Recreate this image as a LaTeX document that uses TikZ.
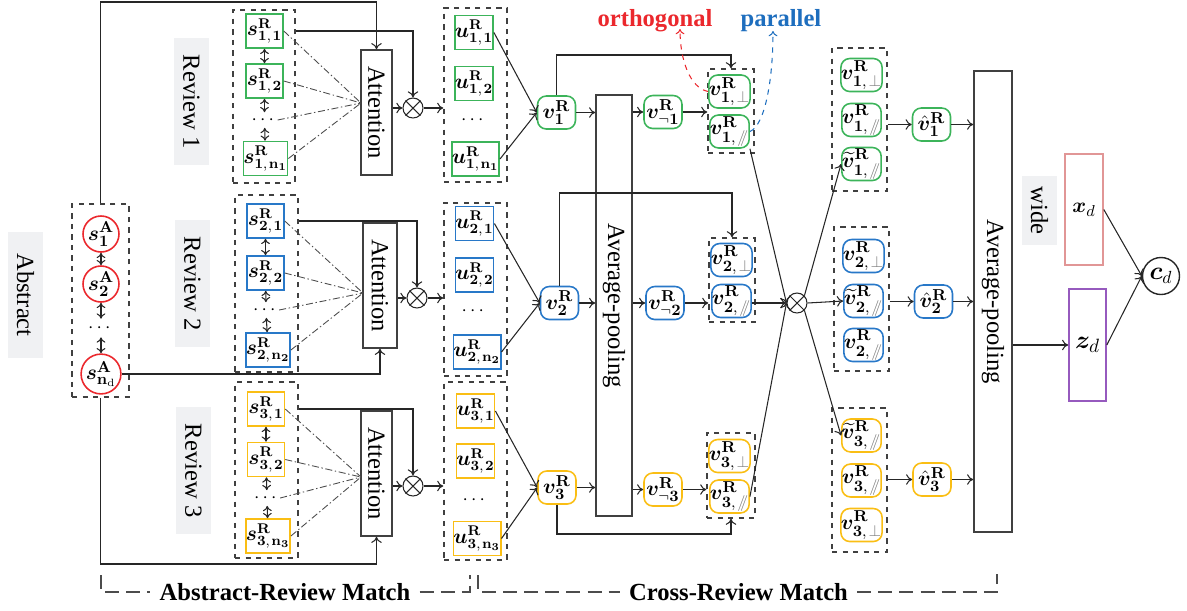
\documentclass[tikz,border=0pt]{standalone}
\usepackage[no-math]{fontspec}
\setmainfont{Liberation Serif}
\usepackage{amsmath,bm,graphicx}
\usetikzlibrary{arrows.meta,fit}
\definecolor{cg}{RGB}{60,180,90}
\definecolor{cb}{RGB}{40,120,200}
\definecolor{cy}{RGB}{250,190,20}
\definecolor{cr}{RGB}{235,40,45}
\definecolor{lg}{RGB}{240,241,243}
\definecolor{tblue}{RGB}{30,110,190}
\definecolor{xpink}{RGB}{225,150,150}
\definecolor{zpur}{RGB}{150,90,190}
\newcommand\mypar{{\color{gray}/\!\!/}}
\newcommand\myperp{{\color{gray}\perp}}
\newcommand\SR[3]{$\bm{#1}^{\mathbf R}_{\mathbf{#2},\mkern2mu#3}$}
\tikzset{
 ln/.style={line width=0.6pt, draw=black!85},
 arr/.style={ln, -{To[length=3.5pt,width=6pt]}},
 darr/.style={ln, {To[length=3pt,width=5pt]}-{To[length=3pt,width=5pt]}},
 dd/.style={line width=0.5pt, draw=black!70, dash pattern=on 4pt off 1.5pt on 0.8pt off 1.5pt},
 sb/.style={draw, line width=0.9pt, minimum width=0.74cm, minimum height=0.68cm, inner sep=0pt, font=\fontsize{12}{14}\selectfont},
 vb/.style={sb, rounded corners=5pt, minimum height=0.66cm, minimum width=0.76cm, font=\fontsize{12.5}{15}\selectfont},
 ca/.style={draw=cr, circle, line width=0.9pt, minimum size=0.72cm, inner sep=0pt, font=\fontsize{13}{15}\selectfont},
 dots/.style={inner sep=0pt, minimum height=0.3cm, font=\fontsize{11}{13}\selectfont},
 grp/.style={draw=black!75, dashed, line width=0.8pt, inner sep=0pt},
 lab/.style={fill=lg, minimum width=0.7cm, minimum height=2.54cm, inner sep=0pt, font=\fontsize{14}{16}\selectfont},
 tall/.style={draw=black!75, line width=0.9pt, inner sep=0pt, font=\fontsize{14}{16}\selectfont},
 ox/.style={draw=black!85, circle, line width=0.6pt, minimum size=0.4cm, inner sep=0pt},
 brk/.style={draw=black!70, line width=0.7pt, dash pattern=on 8pt off 4pt},
 btxt/.style={font=\fontsize{14}{16}\selectfont\bfseries, inner sep=0.18cm}
}
\begin{document}
\begin{tikzpicture}[x=0.02cm,y=-0.02cm]
\path[use as bounding box] (0,0) rectangle (1187,610);
% ---------- labels
\node[lab] (labA) at (25.5,295) {\rotatebox{-90}{Abstract}};
\node[lab] (labR1) at (191.5,101.5) {\rotatebox{-90}{Review 1}};
\node[lab] (labR2) at (192.5,283.5) {\rotatebox{-90}{Review 2}};
\node[lab] (labR3) at (193.5,470.5) {\rotatebox{-90}{Review 3}};
% ---------- abstract
\node[grp, fit={(72,204) (129,397)}] (ga) {};
\node[ca] (a1) at (101,234) {$\bm{s}^{\mathbf A}_{\mathbf 1}$};
\node[ca] (a2) at (101,284) {$\bm{s}^{\mathbf A}_{\mathbf 2}$};
\node[dots, minimum height=0.36cm] (ad) at (101,328) {$\cdots$};
\node[ca] (an) at (101,374) {$\bm{s}^{\mathbf A}_{\mathbf{n}_{\mathrm d}}$};
\draw[darr] (a1) -- (a2);
\draw[darr] (a2) -- (ad);
\draw[darr] (ad) -- (an);
% ---------- review sentence groups
\node[grp, fit={(233,10) (295,183)}] (g1) {};
\node[grp, fit={(235,195) (298,372)}] (g2) {};
\node[grp, fit={(235,382) (298,558)}] (g3) {};
\node[sb, draw=cg] (s11) at (264.5,31) {\SR{s}{1}{\mathbf 1}};
\node[sb, draw=cg] (s12) at (264.5,81) {\SR{s}{1}{\mathbf 2}};
\node[dots] (d1) at (264.5,120) {$\cdots$};
\node[sb, draw=cg] (s1n) at (265.5,158.5) {\SR{s}{1}{\mathbf{n}_{\mathbf 1}}};
\node[sb, draw=cb] (s21) at (265.5,221) {\SR{s}{2}{\mathbf 1}};
\node[sb, draw=cb] (s22) at (265.5,273) {\SR{s}{2}{\mathbf 2}};
\node[dots] (d2) at (266,310) {$\cdots$};
\node[sb, draw=cb] (s2n) at (268,350) {\SR{s}{2}{\mathbf{n}_{\mathbf 2}}};
\node[sb, draw=cy] (s31) at (266,409) {\SR{s}{3}{\mathbf 1}};
\node[sb, draw=cy] (s32) at (266,459.5) {\SR{s}{3}{\mathbf 2}};
\node[dots] (d3) at (267,498) {$\cdots$};
\node[sb, draw=cy] (s3n) at (268,536) {\SR{s}{3}{\mathbf{n}_{\mathbf 3}}};
\foreach \i in {1,2,3}{
 \draw[darr] (s\i1) -- (s\i2);
 \draw[darr] (s\i2) -- (d\i);
 \draw[darr] (d\i) -- (s\i n);
}
% ---------- attention
\node[tall, minimum width=0.62cm, minimum height=2.5cm] (att1) at (376.5,112.5) {\rotatebox{-90}{Attention}};
\node[tall, minimum width=0.68cm, minimum height=2.5cm] (att2) at (380,285.5) {\rotatebox{-90}{Attention}};
\node[tall, minimum width=0.62cm, minimum height=2.5cm] (att3) at (376.5,473.5) {\rotatebox{-90}{Attention}};
\coordinate (c1) at (361,103);
\coordinate (c2) at (363,293);
\coordinate (c3) at (361,477);
\foreach \i in {1,2,3}{
 \draw[dd] (s\i1.east) -- (c\i);
 \draw[dd] (s\i2.east) -- (c\i);
 \draw[dd] (d\i.east) -- (c\i);
 \draw[dd] (s\i n.east) -- (c\i);
}
\node[ox] (o1) at (413,108) {};
\node[ox] (o2) at (417,298) {};
\node[ox] (o3) at (413,486) {};
\foreach \i in {1,2,3}{
 \draw[ln] (o\i.north west) -- (o\i.south east);
 \draw[ln] (o\i.north east) -- (o\i.south west);
 \draw[arr] (att\i.east |- o\i.west) -- (o\i.west);
 \draw[arr] (g\i.east |- s\i1.center) -| (o\i.north);
}
% abstract connections
\draw[arr] (ga.north) -- (ga.north |- 0,2) -| (att1.north);
\draw[arr] (an.east) -| (att2.south);
\draw[arr] (ga.south) -- (ga.south |- 0,564) -| (att3.south);
% ---------- u groups
\node[grp, fit={(444,8) (507,182)}] (gu1) {};
\node[grp, fit={(444,203) (507,376)}] (gu2) {};
\node[grp, fit={(444,382) (507,560)}] (gu3) {};
\node[sb, draw=cg] (u11) at (474,32.5) {\SR{u}{1}{\mathbf 1}};
\node[sb, draw=cg] (u12) at (474,83.5) {\SR{u}{1}{\mathbf 2}};
\node[dots] (ud1) at (474,120) {$\cdots$};
\node[sb, draw=cg] (u1n) at (475.5,159) {\SR{u}{1}{\mathbf{n}_{\mathbf 1}}};
\node[sb, draw=cb] (u21) at (474.5,223.5) {\SR{u}{2}{\mathbf 1}};
\node[sb, draw=cb] (u22) at (474.5,275) {\SR{u}{2}{\mathbf 2}};
\node[dots] (ud2) at (474.5,311) {$\cdots$};
\node[sb, draw=cb] (u2n) at (477,352) {\SR{u}{2}{\mathbf{n}_{\mathbf 2}}};
\node[sb, draw=cy] (u31) at (475.5,411) {\SR{u}{3}{\mathbf 1}};
\node[sb, draw=cy] (u32) at (475.5,461) {\SR{u}{3}{\mathbf 2}};
\node[dots] (ud3) at (475.5,500) {$\cdots$};
\node[sb, draw=cy] (u3n) at (477,538.5) {\SR{u}{3}{\mathbf{n}_{\mathbf 3}}};
\foreach \i in {1,2,3}{
 \draw[arr] (o\i.east) -- (o\i.east -| gu\i.west);
}
% ---------- v nodes
\node[vb, draw=cg] (v1) at (556.5,112.5) {$\bm{v}^{\mathbf R}_{\mathbf 1}$};
\node[vb, draw=cb] (v2) at (559.5,303) {$\bm{v}^{\mathbf R}_{\mathbf 2}$};
\node[vb, draw=cy] (v3) at (557,487.5) {$\bm{v}^{\mathbf R}_{\mathbf 3}$};
\foreach \i in {1,2,3}{
 \draw[arr] (u\i1.east) -- (v\i.west);
 \draw[arr] (u\i n.east) -- (v\i.west);
}
\node[tall, minimum width=0.72cm, minimum height=8.42cm] (pool1) at (614,305.5) {\rotatebox{-90}{Average-pooling}};
\node[vb, draw=cg] (vn1) at (663,112) {$\bm{v}^{\mathbf R}_{\neg\mathbf 1}$};
\node[vb, draw=cb] (vn2) at (665,303) {$\bm{v}^{\mathbf R}_{\neg\mathbf 2}$};
\node[vb, draw=cy] (vn3) at (663,489.5) {$\bm{v}^{\mathbf R}_{\neg\mathbf 3}$};
\node[grp, fit={(708,69) (754,153)}] (gv1) {};
\node[grp, fit={(709,238) (755,322)}] (gv2) {};
\node[grp, fit={(707,433) (755,518)}] (gv3) {};
\node[vb, draw=cg] (p1) at (729.5,91.5) {\SR{v}{1}{\myperp}};
\node[vb, draw=cg] (q1) at (729.5,131.5) {\SR{v}{1}{\mypar}};
\node[vb, draw=cb] (p2) at (731.5,260) {\SR{v}{2}{\myperp}};
\node[vb, draw=cb] (q2) at (731.5,301) {\SR{v}{2}{\mypar}};
\node[vb, draw=cy] (p3) at (729.5,456) {\SR{v}{3}{\myperp}};
\node[vb, draw=cy] (q3) at (729.5,496.5) {\SR{v}{3}{\mypar}};
\foreach \i in {1,2,3}{
 \draw[arr] (v\i.east) -- (v\i.east -| pool1.west);
 \draw[arr] (pool1.east |- vn\i.west) -- (vn\i.west);
 \draw[arr] (vn\i.east) -- (vn\i.east -| gv\i.west);
}
\draw[arr] (v1.north) -- (v1.north |- 0,55) -| (gv1.north);
\draw[arr] (v2.north) -- (v2.north |- 0,193) -| (gv2.north);
\draw[arr] (v3.south) -- (v3.south |- 0,534) -| (gv3.south);
% orthogonal / parallel
\node[font=\fontsize{14}{16}\selectfont\bfseries, text=cr] (orth) at (655,21) {orthogonal};
\node[font=\fontsize{14}{16}\selectfont\bfseries, text=tblue] (para) at (781,21) {parallel};
\coordinate (oe) at (680,29);
\coordinate (pe) at (773,31);
\draw[cr, dashed, line width=0.6pt, -{To[length=3pt,width=5pt]}] (p1.west) .. controls (690,88) and (680,60) .. (oe);
\draw[tblue, dashed, line width=0.6pt, -{To[length=3pt,width=5pt]}] (q1.east) .. controls (765,125) and (773,80) .. (pe);
% ---------- cross otimes
\node[ox] (oc) at (797,303) {};
\draw[ln] (oc.north west) -- (oc.south east);
\draw[ln] (oc.north east) -- (oc.south west);
\draw[arr] (q1.south east) -- (oc.west);
\draw[arr] (q2.east |- oc.west) -- (oc.west);
\draw[arr] (q3.east) -- (oc.west);
% ---------- right groups
\node[grp, fit={(832,48) (887,191)}] (gr1) {};
\node[grp, fit={(834,227) (889,371)}] (gr2) {};
\node[grp, fit={(832,408) (887,552)}] (gr3) {};
\node[vb, draw=cg] (rp1) at (861.5,75) {\SR{v}{1}{\myperp}};
\node[vb, draw=cg] (rq1) at (861.5,120) {\SR{v}{1}{\mypar}};
\node[vb, draw=cg] (t1) at (861.5,164) {$\widetilde{\bm v}^{\mathbf R}_{\mathbf 1,\mkern2mu\mypar}$};
\node[vb, draw=cb] (rp2) at (863.5,256) {\SR{v}{2}{\myperp}};
\node[vb, draw=cb] (t2) at (863.5,301) {$\widetilde{\bm v}^{\mathbf R}_{\mathbf 2,\mkern2mu\mypar}$};
\node[vb, draw=cb] (rq2) at (863.5,345) {\SR{v}{2}{\mypar}};
\node[vb, draw=cy] (t3) at (861.5,435.5) {$\widetilde{\bm v}^{\mathbf R}_{\mathbf 3,\mkern2mu\mypar}$};
\node[vb, draw=cy] (rq3) at (861.5,480.5) {\SR{v}{3}{\mypar}};
\node[vb, draw=cy] (rp3) at (861.5,525) {\SR{v}{3}{\myperp}};
\draw[arr] (oc.north east) -- (t1.west);
\draw[arr] (oc.east) -- (t2.west);
\draw[arr] (oc.south east) -- (t3.west);
\node[vb, draw=cg] (h1) at (931.5,124.5) {$\hat{\bm v}^{\mathbf R}_{\mathbf 1}$};
\node[vb, draw=cb] (h2) at (933.5,301.5) {$\hat{\bm v}^{\mathbf R}_{\mathbf 2}$};
\node[vb, draw=cy] (h3) at (932,479.5) {$\hat{\bm v}^{\mathbf R}_{\mathbf 3}$};
\node[tall, minimum width=0.76cm, minimum height=9.22cm] (pool2) at (993,301.5) {\rotatebox{-90}{Average-pooling}};
\foreach \i in {1,2,3}{
 \draw[arr] (gr\i.east |- h\i.west) -- (h\i.west);
 \draw[arr] (h\i.east) -- (h\i.east -| pool2.west);
}
% ---------- wide & deep
\node[lab, minimum height=1.38cm] (wide) at (1039.5,210.5) {\rotatebox{-90}{wide}};
\node[draw=xpink, line width=0.9pt, minimum width=0.76cm, minimum height=2.22cm, inner sep=0pt, font=\fontsize{13}{15}\selectfont] (xd) at (1084,209.5) {$\bm{x}_d$};
\node[draw=zpur, line width=0.9pt, minimum width=0.74cm, minimum height=2.24cm, inner sep=0pt, font=\fontsize{15}{17}\selectfont] (zd) at (1087.5,345) {$\bm{z}_d$};
\node[draw=black!85, circle, line width=0.8pt, minimum size=0.74cm, inner sep=0pt, font=\fontsize{14}{16}\selectfont] (cd) at (1161,276) {$\bm{c}_d$};
\draw[arr] (pool2.east |- zd.west) -- (zd.west);
\draw[arr] (xd.east) -- (cd.west);
\draw[arr] (zd.east) -- (cd.west);
% ---------- bottom brackets
\node[btxt] (arm) at (285,592) {Abstract-Review Match};
\node[btxt] (crm) at (738.5,592) {Cross-Review Match};
\draw[brk] (101,575) |- (arm.west);
\draw[brk] (arm.east) -| (470,575);
\draw[brk] (478,575) |- (crm.west);
\draw[brk] (crm.east) -| (997,574);
\end{tikzpicture}
\end{document}
